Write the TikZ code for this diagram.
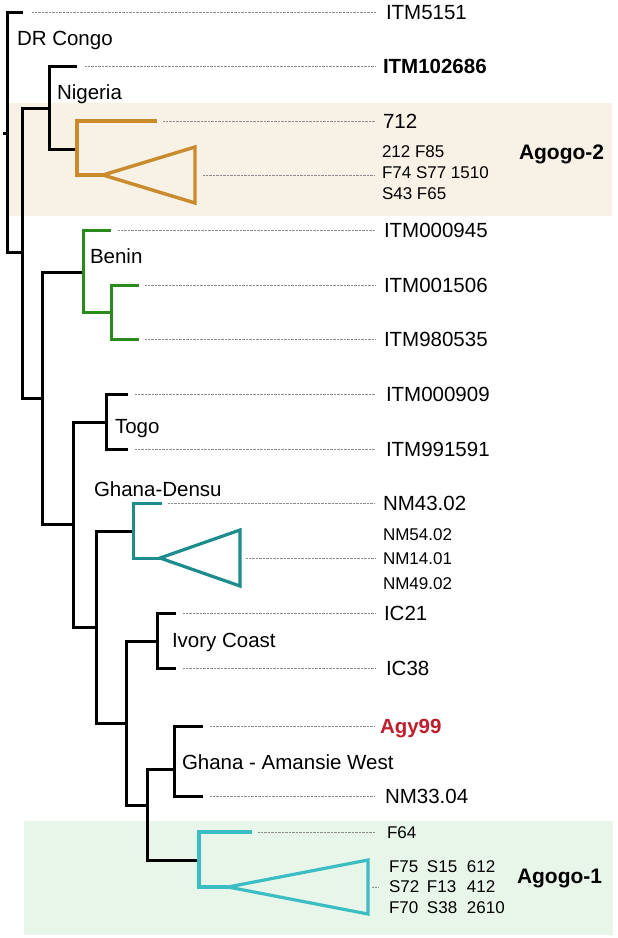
\documentclass[tikz,border=0pt]{standalone}
\usepackage{fontspec}
\setmainfont{Liberation Sans}
\usepackage{xcolor}
\usepackage{tikz}
\usetikzlibrary{positioning, calc}
\definecolor{agtwodraw}{HTML}{C98B2B}
\definecolor{agtwofill}{HTML}{F8F1E6}
\definecolor{bendraw}{HTML}{2A8A1E}
\definecolor{dendraw}{HTML}{1C8C8C}
\definecolor{agonedraw}{HTML}{3CBCC3}
\definecolor{agonefill}{HTML}{E8F6EA}
\definecolor{agyred}{HTML}{BE1E2D}
\tikzset{
  branch/.style={draw=black, line width=3pt},
  tri/.style={line width=3.2pt, line join=miter},
  lead/.style={line width=0.9pt, draw=black!45, dash pattern=on 1pt off 0.4pt},
  tiplab/.style={anchor=west, inner sep=0pt, outer sep=0pt, font=\fontsize{20.5}{24}\selectfont, text height=14.7pt, text depth=0pt},
  tipbold/.style={tiplab, font=\bfseries\fontsize{20.5}{24}\selectfont},
  grplab/.style={anchor=west, inner sep=0pt, outer sep=0pt, align=left},
  clade/.style={tiplab},
  clu/.style={anchor=west, inner sep=0pt, outer sep=0pt, font=\bfseries\fontsize{21}{24}\selectfont, text height=15pt, text depth=0pt},
}

\begin{document}
\begin{tikzpicture}[x=1pt, y=-1pt, line width=3pt]
  \useasboundingbox (0,0) rectangle (618,938);
  \fill[agtwofill] (9,103) rectangle (612,216);
  \fill[agonefill] (24,821) rectangle (613,935);
  % inner nodes
  \coordinate (stub) at (3,133);
  \coordinate (root) at (7,133);
  \coordinate (n1) at (22,252);
  \coordinate (nig) at (49,108);
  \coordinate (agtwo) at (77,149);
  \coordinate (n2) at (42,398);
  \coordinate (ben) at (83,272);
  \coordinate (bentwo) at (111,312);
  \coordinate (n3) at (73,524);
  \coordinate (togo) at (106,422);
  \coordinate (n4) at (96,627);
  \coordinate (den) at (133,531);
  \coordinate (n5) at (126,723);
  \coordinate (ivc) at (157,641);
  \coordinate (n6) at (147,805);
  \coordinate (ama) at (174,769);
  \coordinate (agone) at (199,860);
  % tips
  \coordinate (t5151) at (23,12);
  \coordinate (t102686) at (77,66);
  \coordinate (t712) at (157,121);
  \coordinate (t945) at (111,230);
  \coordinate (t1506) at (139,285);
  \coordinate (t980535) at (139,339);
  \coordinate (t909) at (128,394);
  \coordinate (t991591) at (128,449);
  \coordinate (tnm43) at (162,503);
  \coordinate (tic21) at (176,613);
  \coordinate (tic38) at (176,668);
  \coordinate (tagy) at (203,726);
  \coordinate (tnm33) at (203,796);
  \coordinate (tf64) at (252,832);
  % collapsed clades
  \coordinate (agtwoapex) at (103,175);
  \coordinate (agtwotop) at (195,147);
  \coordinate (agtwobot) at (195,203);
  \coordinate (agtwomid) at (195,175);
  \coordinate (denapex) at (160,558);
  \coordinate (dentop) at (240,530);
  \coordinate (denbot) at (240,586);
  \coordinate (denmid) at (240,558);
  \coordinate (agoneapex) at (228,887);
  \coordinate (agonetop) at (368,860);
  \coordinate (agonebot) at (368,914);
  \coordinate (agonemid) at (368,887);

  % branches
  \draw[branch] (stub) -- (root);
  \draw[branch] (root) |- (t5151);
  \draw[branch] (root) |- (n1);
  \draw[branch] (n1) |- (nig);
  \draw[branch] (n1) |- (n2);
  \draw[branch] (nig) |- (t102686);
  \draw[branch] (nig) |- (agtwo);
  \draw[branch, draw=agtwodraw, line width=3.4pt] (agtwo) |- (t712);
  \draw[branch, draw=agtwodraw, line width=3.4pt] (agtwo) |- (agtwoapex);
  \draw[tri, draw=agtwodraw, line width=3.4pt] (agtwoapex) -- (agtwotop) -- (agtwobot) -- cycle;
  \draw[branch] (n2) |- (ben);
  \draw[branch] (n2) |- (n3);
  \draw[branch, draw=bendraw] (ben) |- (t945);
  \draw[branch, draw=bendraw] (ben) |- (bentwo);
  \draw[branch, draw=bendraw] (bentwo) |- (t1506);
  \draw[branch, draw=bendraw] (bentwo) |- (t980535);
  \draw[branch] (n3) |- (togo);
  \draw[branch] (n3) |- (n4);
  \draw[branch] (togo) |- (t909);
  \draw[branch] (togo) |- (t991591);
  \draw[branch] (n4) |- (den);
  \draw[branch] (n4) |- (n5);
  \draw[branch, draw=dendraw] (den) |- (tnm43);
  \draw[branch, draw=dendraw] (den) |- (denapex);
  \draw[tri, draw=dendraw] (denapex) -- (dentop) -- (denbot) -- cycle;
  \draw[branch] (n5) |- (ivc);
  \draw[branch] (n5) |- (n6);
  \draw[branch] (ivc) |- (tic21);
  \draw[branch] (ivc) |- (tic38);
  \draw[branch] (n6) |- (ama);
  \draw[branch] (n6) |- (agone);
  \draw[branch] (ama) |- (tagy);
  \draw[branch] (ama) |- (tnm33);
  \draw[branch, draw=agonedraw, line width=3.2pt] (agone) |- (tf64);
  \draw[branch, draw=agonedraw, line width=3.2pt] (agone) |- (agoneapex);
  \draw[tri, draw=agonedraw] (agoneapex) -- (agonetop) -- (agonebot) -- cycle;

  % tip labels
  \node[tiplab] (l5151) at (386,12) {ITM5151};
  \node[tipbold] (l102686) at (383,66) {ITM102686};
  \node[tiplab] (l712) at (383,121) {712};
  \node[grplab, font=\fontsize{17}{21}\selectfont] (lagtwo) at (382,173) {212 F85\\F74 S77 1510\\S43 F65};
  \node[tiplab] (l945) at (384,230) {ITM000945};
  \node[tiplab] (l1506) at (384,285) {ITM001506};
  \node[tiplab] (l980535) at (384,339) {ITM980535};
  \node[tiplab] (l909) at (386,394) {ITM000909};
  \node[tiplab] (l991591) at (386,449) {ITM991591};
  \node[tiplab] (lnm43) at (383,503) {NM43.02};
  \node[grplab, font=\fontsize{17}{24.5}\selectfont] (lden) at (383,559) {NM54.02\\NM14.01\\NM49.02};
  \node[tiplab] (lic21) at (384,613) {IC21};
  \node[tiplab] (lic38) at (386,668) {IC38};
  \node[tipbold, text=agyred] (lagy) at (380,726) {Agy99};
  \node[tiplab] (lnm33) at (385,796) {NM33.04};
  \node[tiplab, font=\fontsize{17}{21}\selectfont, text height=12.2pt] (lf64) at (387,832) {F64};
  \node[grplab, font=\fontsize{17}{20.5}\selectfont] (lagone) at (389,887)
    {\makebox[38pt][l]{F75}\makebox[40pt][l]{S15}612\\\makebox[38pt][l]{S72}\makebox[40pt][l]{F13}412\\\makebox[38pt][l]{F70}\makebox[40pt][l]{S38}2610};

  % leaders
  \draw[lead] ([xshift=9pt]t5151) -- ([xshift=-10pt]l5151.west);
  \draw[lead] ([xshift=8pt]t102686) -- ([xshift=-8pt]l102686.west);
  \draw[lead] ([xshift=6pt]t712) -- ([xshift=-8pt]l712.west);
  \draw[lead] ([xshift=8pt]agtwomid) -- ([xshift=-7pt]agtwomid -| lagtwo.west);
  \draw[lead] ([xshift=7pt]t945) -- ([xshift=-9pt]l945.west);
  \draw[lead] ([xshift=6pt]t1506) -- ([xshift=-9pt]l1506.west);
  \draw[lead] ([xshift=6pt]t980535) -- ([xshift=-9pt]l980535.west);
  \draw[lead] ([xshift=7pt]t909) -- ([xshift=-11pt]l909.west);
  \draw[lead] ([xshift=7pt]t991591) -- ([xshift=-11pt]l991591.west);
  \draw[lead] ([xshift=6pt]tnm43) -- ([xshift=-8pt]lnm43.west);
  \draw[lead] ([xshift=6pt]denmid) -- ([xshift=-8pt]denmid -| lden.west);
  \draw[lead] ([xshift=7pt]tic21) -- ([xshift=-9pt]lic21.west);
  \draw[lead] ([xshift=7pt]tic38) -- ([xshift=-11pt]lic38.west);
  \draw[lead] ([xshift=7pt]tagy) -- ([xshift=-5pt]lagy.west);
  \draw[lead] ([xshift=7pt]tnm33) -- ([xshift=-10pt]lnm33.west);
  \draw[lead] ([xshift=6pt]tf64) -- ([xshift=-12pt]lf64.west);
  \draw[lead] ([xshift=4pt]agonemid) -- ([xshift=-11pt]agonemid -| lagone.west);

  % clade names
  \node[clade] (cdrc) at (17,38.5) {DR Congo};
  \node[clade] (cnig) at (57,92) {Nigeria};
  \node[clade] (cben) at (90,256) {Benin};
  \node[clade] (ctogo) at (115,426) {Togo};
  \node[clade] (cden) at (94,489) {Ghana-Densu};
  \node[clade] (civc) at (172,640) {Ivory Coast};
  \node[clade] (cama) at (182,762) {Ghana - Amansie West};
  \node[clu] (cagtwo) at (519,152) {Agogo-2};
  \node[clu] (cagone) at (517,876) {Agogo-1};
\end{tikzpicture}
\end{document}
